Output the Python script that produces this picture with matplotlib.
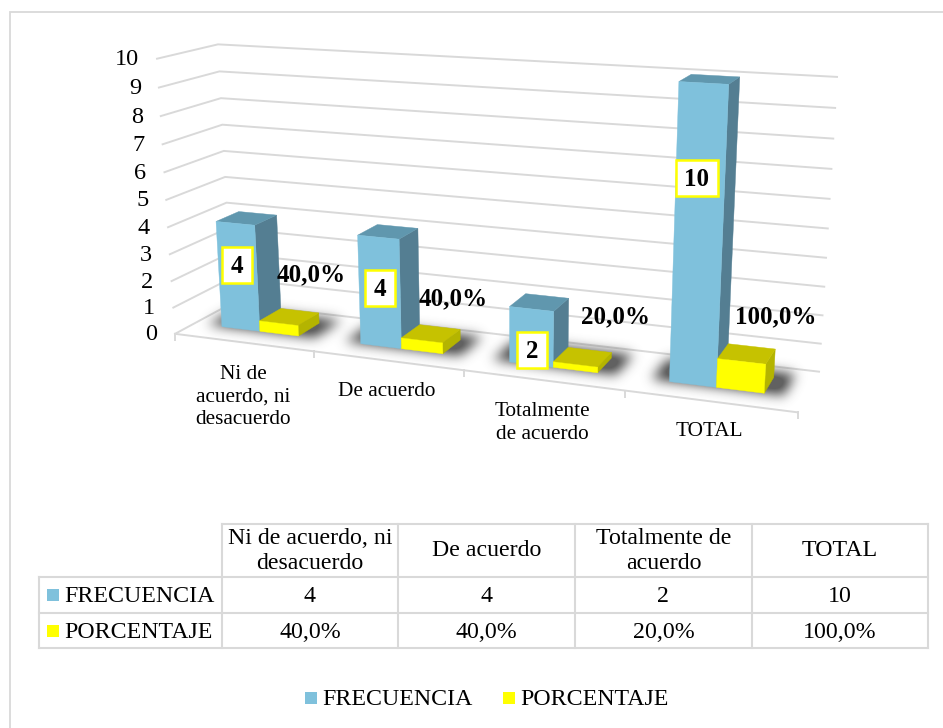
import numpy as np
import matplotlib
matplotlib.use("Agg")
import matplotlib.pyplot as plt
from matplotlib.patches import Polygon, Rectangle
from matplotlib.path import Path

categories = ["Ni de acuerdo, ni desacuerdo", "De acuerdo", "Totalmente de acuerdo", "TOTAL"]
axis_labels = ["Ni de\nacuerdo, ni\ndesacuerdo", "De acuerdo", "Totalmente\nde acuerdo", "TOTAL"]
table_headers = ["Ni de acuerdo, ni\ndesacuerdo", "De acuerdo", "Totalmente de\nacuerdo", "TOTAL"]
frecuencia = [4, 4, 2, 10]
porcentaje = [0.4, 0.4, 0.2, 1.0]
frecuencia_text = ["4", "4", "2", "10"]
porcentaje_text = ["40,0%", "40,0%", "20,0%", "100,0%"]
y_ticks = list(range(0, 11))

W, H = 943, 728
SERIF = "Liberation Serif"
BLUE = "#7fc1dc"
BLUE_TOP = "#6097ae"
BLUE_SIDE = "#547e92"
YEL = "#ffff00"
YEL_TOP = "#c6c200"
YEL_SIDE = "#b4b400"
GRID = "#d9d9d9"

fig = plt.figure(figsize=(W / 100, H / 100), dpi=100)
ax = fig.add_axes([0, 0, 1, 1])
ax.set_xlim(0, W)
ax.set_ylim(H, 0)
ax.axis("off")

# Perspective camera calibrated from the box corners (u category, d depth, v value)
world = np.array([[0, 0, 0], [4, 0, 0], [0, 1, 0], [4, 1, 0], [0, 0, 10], [0, 1, 10], [4, 1, 10]], float)
screen = np.array([[175, 333], [798, 413], [232, 304], [819, 371], [157, 59], [218, 44], [837, 77]], float)
A, b = [], []
for (u, d, v), (x, y) in zip(world, screen):
    A.append([u, d, v, 1, 0, 0, 0, 0, -x * u, -x * d, -x * v]); b.append(x)
    A.append([0, 0, 0, 0, u, d, v, 1, -y * u, -y * d, -y * v]); b.append(y)
m = np.linalg.lstsq(np.array(A), np.array(b), rcond=None)[0]
P = np.array([m[:4], m[4:8], [m[8], m[9], m[10], 1.0]])


def proj(u, d, v):
    p = P @ np.array([u, d, v, 1.0])
    return p[0] / p[2], p[1] / p[2]


# outer frame: runs off the right and bottom of the picture
ax.plot([10, 10, W + 5], [H + 5, 12, 12], color=GRID, lw=1.3, zorder=1, solid_joinstyle="miter")

# gridlines and value axis
for t in y_ticks:
    pts = [proj(0, 0, t), proj(0, 1, t), proj(4, 1, t)]
    ax.plot(*zip(*pts), color=GRID, lw=1.4, zorder=2, solid_joinstyle="miter")
    x0, y0 = proj(0, 0, t)
    ax.text(x0 - 18, y0 + 1, str(t), ha="right", va="center", family=SERIF, fontsize=17.5, color="black")

# floor front edge with ticks
ax.plot(*zip(proj(0, 0, 0), proj(4, 0, 0)), color=GRID, lw=1.4, zorder=2)
for i in range(5):
    x0, y0 = proj(i, 0, 0)
    ax.plot([x0, x0], [y0, y0 + 6], color=GRID, lw=1.4, zorder=2)

DEPTH0, DEPTH1 = 0.33, 0.73
BAR_OFF, BAR_W = 0.205, 0.28
SHADOW_PAD_U, SHADOW_PAD_D = 0.11, 0.14


def blur_shadow(polys):
    yy, xx = np.mgrid[0:H, 0:W]
    grid = np.c_[xx.ravel() + 0.5, yy.ravel() + 0.5]
    mask = np.zeros(H * W)
    for poly in polys:
        mask = np.maximum(mask, Path(poly).contains_points(grid).astype(float))
    mask = mask.reshape(H, W)
    s = 6.0
    k = np.exp(-0.5 * (np.arange(-18, 19) / s) ** 2)
    k /= k.sum()
    mask = np.apply_along_axis(lambda r: np.convolve(r, k, mode="same"), 1, mask)
    mask = np.apply_along_axis(lambda r: np.convolve(r, k, mode="same"), 0, mask)
    rgba = np.zeros((H, W, 4))
    rgba[..., :3] = 0.27
    rgba[..., 3] = np.clip(mask * 1.05, 0, 0.85)
    ax.imshow(rgba, extent=(0, W, H, 0), zorder=3, interpolation="bilinear", aspect="auto")


shadows = []
for i in range(4):
    u0 = i + BAR_OFF - SHADOW_PAD_U
    u1 = i + BAR_OFF + 2 * BAR_W + SHADOW_PAD_U
    d0, d1 = DEPTH0 + 0.01, DEPTH1 + SHADOW_PAD_D
    shadows.append([proj(u0, d0, 0), proj(u1, d0, 0), proj(u1, d1, 0), proj(u0, d1, 0)])
blur_shadow(shadows)
ax.set_xlim(0, W)
ax.set_ylim(H, 0)


def bar3d(u0, u1, val, front, top, side, z):
    d0, d1 = DEPTH0, DEPTH1
    ax.add_patch(Polygon([proj(u1, d0, 0), proj(u1, d1, 0), proj(u1, d1, val), proj(u1, d0, val)],
                         fc=side, ec=side, lw=0.3, zorder=z))
    ax.add_patch(Polygon([proj(u0, d0, val), proj(u1, d0, val), proj(u1, d1, val), proj(u0, d1, val)],
                         fc=top, ec=top, lw=0.3, zorder=z))
    ax.add_patch(Polygon([proj(u0, d0, 0), proj(u1, d0, 0), proj(u1, d0, val), proj(u0, d0, val)],
                         fc=front, ec=front, lw=0.3, zorder=z + 0.1))


for i in range(4):
    um = i + BAR_OFF + BAR_W
    bar3d(i + BAR_OFF, um, frecuencia[i], BLUE, BLUE_TOP, BLUE_SIDE, 4 + i)
    bar3d(um, um + BAR_W, porcentaje[i], YEL, YEL_TOP, YEL_SIDE, 4.5 + i)

# data labels
freq_label_pos = [(237, 265), (380, 288), (532, 350), (697, 178)]
pct_label_pos = [(311, 275), (453, 299), (615, 317), (776, 317)]
for s, (x, y) in zip(frecuencia_text, freq_label_pos):
    hw = 15 if len(s) == 1 else 21
    ax.add_patch(Rectangle((x - hw, y - 18), 2 * hw, 36, fc="white", ec=YEL, lw=1.8, zorder=10))
    ax.text(x, y + 1.5, s, ha="center", va="center", family=SERIF, fontsize=18, fontweight="bold", zorder=11)
for s, (x, y) in zip(porcentaje_text, pct_label_pos):
    ax.text(x, y, s, ha="center", va="center", family=SERIF, fontsize=18, fontweight="bold", zorder=11)

# category labels
cat_label_pos = [(243, 397), (387, 391), (542, 423), (709, 431)]
for s, (x, y) in zip(axis_labels, cat_label_pos):
    ax.text(x, y, s, ha="center", va="center", family=SERIF, fontsize=15.3, linespacing=1.22, zorder=11)

# data table
col_x = [222, 398, 575, 752, 928]
row_y = [524, 577, 613, 648]
LEFT = 39
for y in row_y:
    ax.plot([LEFT if y > 524 else col_x[0], col_x[-1]], [y, y], color=GRID, lw=1.5, zorder=2)
for x in col_x:
    ax.plot([x, x], [row_y[0], row_y[-1]], color=GRID, lw=1.5, zorder=2)
ax.plot([LEFT, LEFT], [row_y[1], row_y[-1]], color=GRID, lw=1.5, zorder=2)
TS = 17.2
for i in range(4):
    xc = (col_x[i] + col_x[i + 1]) / 2
    ax.text(xc, (row_y[0] + row_y[1]) / 2 + 0.5, table_headers[i], ha="center", va="center",
            family=SERIF, fontsize=TS, linespacing=1.22)
    ax.text(xc, (row_y[1] + row_y[2]) / 2 + 1.5, frecuencia_text[i], ha="center", va="center", family=SERIF, fontsize=TS)
    ax.text(xc, (row_y[2] + row_y[3]) / 2 + 1.5, porcentaje_text[i], ha="center", va="center", family=SERIF, fontsize=TS)
for label, color, ya in (("FRECUENCIA", BLUE, 595), ("PORCENTAJE", YEL, 631)):
    ax.add_patch(Rectangle((47, ya - 6), 12, 12, fc=color, ec="none", zorder=5))
    ax.text(64, ya + 1, label, ha="left", va="center", family=SERIF, fontsize=TS)

# legend
for label, color, xs in (("FRECUENCIA", BLUE, 305), ("PORCENTAJE", YEL, 503)):
    ax.add_patch(Rectangle((xs, 692), 12, 12, fc=color, ec="none", zorder=5))
    ax.text(xs + 17, 699.5, label, ha="left", va="center", family=SERIF, fontsize=TS)

fig.savefig("out.png", dpi=100)
